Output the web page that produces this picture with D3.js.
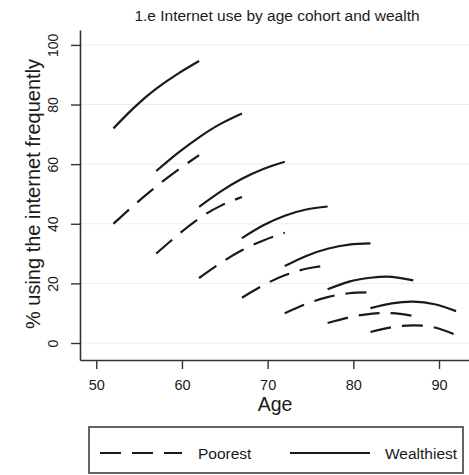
<!DOCTYPE html>
<html>
<head>
<meta charset="utf-8">
<script src="https://cdn.jsdelivr.net/npm/d3@7"></script>
<style>
  html, body { margin: 0; padding: 0; background: #fff; }
  svg { display: block; font-family: "Liberation Sans", Arial, sans-serif; }
</style>
</head>
<body>
<svg id="chart" width="469" height="475"></svg>
<script>
// Age points sampled along each birth cohort (7 cohorts, 10 years of follow-up each)
const cohortAges = [
  [52, 54.5, 57, 59.5, 62],
  [57, 59.5, 62, 64.5, 67],
  [62, 64.5, 67, 69.5, 72],
  [67, 69.5, 72, 74.5, 77],
  [72, 74.5, 77, 79.5, 82],
  [77, 79.5, 82, 84.5, 87],
  [82, 84.5, 87, 89.5, 92]
];

// % using the internet frequently, wealthiest group
const wealthiest = [
  [72.0, 79.2, 85.3, 90.3, 94.6],
  [57.7, 63.7, 69.0, 73.5, 77.0],
  [45.7, 50.8, 55.1, 58.4, 60.8],
  [35.2, 39.5, 42.7, 44.8, 45.8],
  [25.8, 29.2, 31.6, 33.0, 33.4],
  [18.0, 20.6, 21.9, 22.2, 21.0],
  [11.7, 13.3, 13.9, 13.0, 10.7]
];

// % using the internet frequently, poorest group
const poorest = [
  [40.0, 46.5, 52.5, 58.0, 63.0],
  [30.0, 36.2, 41.8, 46.0, 49.0],
  [21.8, 26.8, 31.1, 34.4, 37.0],
  [15.2, 19.4, 22.7, 24.9, 26.0],
  [10.0, 13.1, 15.4, 16.7, 17.0],
  [6.7, 8.6, 9.8, 10.0, 9.1],
  [3.7, 5.3, 5.9, 5.2, 2.7]
];

const xTicks = [50, 60, 70, 80, 90];
const yTicks = [0, 20, 40, 60, 80, 100];
const seriesNames = ["Poorest", "Wealthiest"];

const title = "1.e Internet use by age cohort and wealth";
const xTitle = "Age";
const yTitle = "% using the internet frequently";

const svg = d3.select("#chart");
const ink = "#1a1a1a";
const dashPattern = "21,11";

const x = d3.scaleLinear().domain([48.1, 93.5]).range([80, 469]);
const y = d3.scaleLinear().domain([-5.7, 105]).range([360, 30]);

// light horizontal grid
svg.append("g")
  .selectAll("line")
  .data(yTicks)
  .join("line")
  .attr("x1", 80).attr("x2", 469)
  .attr("y1", d => y(d)).attr("y2", d => y(d))
  .attr("stroke", "#ececec")
  .attr("stroke-width", 1);

// axes
const xAxis = svg.append("g")
  .attr("transform", `translate(0,${y.range()[0]})`)
  .call(d3.axisBottom(x).tickValues(xTicks).tickSize(9).tickSizeOuter(0));
xAxis.select(".domain").attr("stroke", "#333").attr("stroke-width", 1.6);
xAxis.selectAll(".tick line").attr("stroke", "#333").attr("stroke-width", 1.4);
xAxis.selectAll(".tick text")
  .attr("font-size", 14.5)
  .attr("fill", ink)
  .attr("dy", null)
  .attr("y", 30);

const yAxis = svg.append("g")
  .attr("transform", `translate(${x.range()[0]},0)`)
  .call(d3.axisLeft(y).tickValues(yTicks).tickSize(9).tickSizeOuter(0));
yAxis.select(".domain").attr("stroke", "#333").attr("stroke-width", 1.6);
yAxis.selectAll(".tick line").attr("stroke", "#333").attr("stroke-width", 1.4);
yAxis.selectAll(".tick text")
  .attr("font-size", 14)
  .attr("fill", ink)
  .attr("x", null).attr("dy", null)
  .attr("text-anchor", "middle")
  .attr("transform", "translate(-22.5,0) rotate(-90)");

// titles
svg.append("text")
  .attr("x", 277).attr("y", 21)
  .attr("text-anchor", "middle")
  .attr("font-size", 15.5)
  .attr("fill", ink)
  .text(title);

svg.append("text")
  .attr("x", 275).attr("y", 411)
  .attr("text-anchor", "middle")
  .attr("font-size", 19.5)
  .attr("fill", ink)
  .text(xTitle);

svg.append("text")
  .attr("transform", "translate(40,194) rotate(-90)")
  .attr("text-anchor", "middle")
  .attr("font-size", 20)
  .attr("fill", ink)
  .text(yTitle);

// cohort curves
const line = d3.line()
  .x(d => x(d[0]))
  .y(d => y(d[1]))
  .curve(d3.curveNatural);

const plot = svg.append("g").attr("fill", "none").attr("stroke", ink).attr("stroke-width", 2.2);

plot.selectAll("path.poor")
  .data(poorest.map((vals, i) => vals.map((v, j) => [cohortAges[i][j], v])))
  .join("path")
  .attr("class", "poor")
  .attr("d", line)
  .attr("stroke-dasharray", dashPattern);

plot.selectAll("path.rich")
  .data(wealthiest.map((vals, i) => vals.map((v, j) => [cohortAges[i][j], v])))
  .join("path")
  .attr("class", "rich")
  .attr("d", line);

// legend
const legend = svg.append("g");
legend.append("rect")
  .attr("x", 89).attr("y", 427)
  .attr("width", 374).attr("height", 46)
  .attr("fill", "#fff")
  .attr("stroke", "#333").attr("stroke-width", 1.5);

const legendItems = [
  { name: seriesNames[0], x1: 100, x2: 182, tx: 198, dash: dashPattern },
  { name: seriesNames[1], x1: 290, x2: 370, tx: 385, dash: null }
];
legendItems.forEach(it => {
  legend.append("line")
    .attr("x1", it.x1).attr("x2", it.x2)
    .attr("y1", 453).attr("y2", 453)
    .attr("stroke", ink).attr("stroke-width", 2.2)
    .attr("stroke-dasharray", it.dash);
  legend.append("text")
    .attr("x", it.tx).attr("y", 458.5)
    .attr("font-size", 15.5)
    .attr("fill", ink)
    .text(it.name);
});
</script>
</body>
</html>
